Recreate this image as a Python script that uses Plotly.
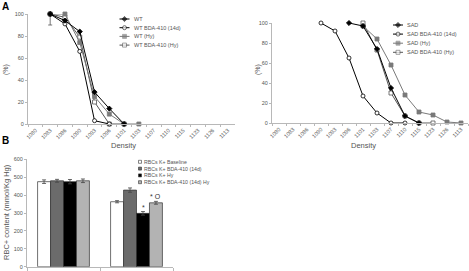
import plotly.graph_objects as go

W, H = 469, 271

# ---------------- data ----------------
density_labels = ["1080", "1083", "1086", "1090", "1093", "1096", "1101",
                  "1103", "1107", "1110", "1115", "1123", "1126", "1113"]

wt_x = ["1083", "1086", "1090", "1093", "1096", "1101"]
wt_y = [100, 94, 84, 29, 14, 0]
wt_bda14_x = ["1083", "1086", "1090", "1093", "1096"]
wt_bda14_y = [100, 91, 66, 3, 0]
wt_hy_x = ["1083", "1086", "1090", "1093", "1096", "1101", "1103"]
wt_hy_y = [100, 100, 74, 25, 9, 0, 0]
wt_bdahy_x = ["1083", "1086", "1090", "1093", "1096", "1101"]
wt_bdahy_y = [100, 97, 79, 20, 0, 0]
wt_bdahy_err = [10, 0, 0, 0, 0, 0]

sad_x = ["1096", "1101", "1103", "1107", "1110", "1115"]
sad_y = [100, 97, 74, 35, 7, 0]
sad_bda14_x = ["1090", "1093", "1096", "1101", "1103", "1107", "1110"]
sad_bda14_y = [100, 92, 65, 27, 10, 0, 0]
sad_hy_x = ["1101", "1103", "1107", "1110", "1115", "1123", "1126", "1113"]
sad_hy_y = [97, 84, 58, 28, 11, 8, 1, 0]
sad_bdahy_x = ["1101", "1103", "1107", "1110", "1115", "1123"]
sad_bdahy_y = [100, 73, 30, 7, 0, 0]

bar_groups = ["WT", "SAD"]
bar_names = ["RBCs K+ Baseline", "RBCs K+ BDA-410 (14d)",
             "RBCs K+ Hy", "RBCs K+ BDA-410 (14d) Hy"]
k_baseline = [475, 363]
k_bda14 = [480, 428]
k_hy = [475, 298]
k_bda14_hy = [480, 357]
k_baseline_err = [10, 6]
k_bda14_err = [8, 12]
k_hy_err = [12, 10]
k_bda14_hy_err = [10, 8]

# ---------------- helpers ----------------
def px(x):
    return x / W


def py(y):
    return 1 - y / H


FONT = "Liberation Sans, Arial, sans-serif"
TXT = "#555555"
AX = "#b8b8b8"

fig = go.Figure()

line_styles = {
    "black": dict(line=dict(color="#000000", width=1),
                  marker=dict(symbol="diamond", size=4, color="#000000",
                              line=dict(color="#000000", width=0.8))),
    "opencirc": dict(line=dict(color="#000000", width=1),
                     marker=dict(symbol="circle", size=4, color="#ffffff",
                                 line=dict(color="#000000", width=0.8))),
    "gray": dict(line=dict(color="#7a7a7a", width=1),
                 marker=dict(symbol="square", size=4, color="#7a7a7a",
                             line=dict(color="#7a7a7a", width=0.8))),
    "opensq": dict(line=dict(color="#555555", width=1),
                   marker=dict(symbol="square", size=4, color="#ffffff",
                               line=dict(color="#555555", width=0.8))),
}


def add_line(x, y, style, xa, ya, err=None):
    st = line_styles[style]
    kw = {}
    if err is not None:
        kw["error_y"] = dict(type="data", symmetric=False, array=[0] * len(err),
                             arrayminus=err, color="#555555", thickness=0.8, width=2)
    fig.add_trace(go.Scatter(x=x, y=y, mode="lines+markers", line=st["line"],
                             marker=st["marker"], xaxis=xa, yaxis=ya,
                             cliponaxis=False, showlegend=False, **kw))


# Panel A left (WT)
add_line(wt_bdahy_x, wt_bdahy_y, "opensq", "x", "y", err=wt_bdahy_err)
add_line(wt_hy_x, wt_hy_y, "gray", "x", "y")
add_line(wt_bda14_x, wt_bda14_y, "opencirc", "x", "y")
add_line(wt_x, wt_y, "black", "x", "y")

# Panel A right (SAD)
add_line(sad_bdahy_x, sad_bdahy_y, "opensq", "x2", "y2")
add_line(sad_hy_x, sad_hy_y, "gray", "x2", "y2")
add_line(sad_bda14_x, sad_bda14_y, "opencirc", "x2", "y2")
add_line(sad_x, sad_y, "black", "x2", "y2")

# Panel B bars
bar_series = [k_baseline, k_bda14, k_hy, k_bda14_hy]
bar_errs = [k_baseline_err, k_bda14_err, k_hy_err, k_bda14_hy_err]
bar_colors = ["#ffffff", "#6b6b6b", "#000000", "#b3b3b3"]
for name, vals, errs, col in zip(bar_names, bar_series, bar_errs, bar_colors):
    fig.add_trace(go.Bar(x=bar_groups, y=vals, name=name, xaxis="x3", yaxis="y3",
                         marker=dict(color=col, line=dict(color="#333333", width=0.7)),
                         error_y=dict(type="data", array=errs, color="#444444",
                                      thickness=0.8, width=2),
                         showlegend=False))

# ---------------- legends (drawn manually for compact spacing) ----------------
def legend_line(x0, yc, style, label):
    st = line_styles[style]
    fig.add_trace(go.Scatter(x=[x0, x0 + 5, x0 + 10], y=[yc, yc, yc],
                             mode="lines+markers", line=st["line"],
                             marker=dict(st["marker"], size=[0, 4, 0]),
                             xaxis="x4", yaxis="y4", cliponaxis=False,
                             showlegend=False, hoverinfo="skip"))
    fig.add_annotation(x=px(x0 + 13), y=py(yc), xref="paper", yref="paper",
                       text=label, showarrow=False, xanchor="left", yanchor="middle",
                       borderpad=0,
                       font=dict(family=FONT, size=5.5, color=TXT))


left_leg = ["WT", "WT BDA-410 (14d)", "WT (Hy)", "WT BDA-410 (Hy)"]
right_leg = ["SAD", "SAD BDA-410 (14d)", "SAD (Hy)", "SAD BDA-410 (Hy)"]
styles = ["black", "opencirc", "gray", "opensq"]
for i, (lab, st) in enumerate(zip(left_leg, styles)):
    legend_line(119.5, 19 + i * 8.7, st, lab)
for i, (lab, st) in enumerate(zip(right_leg, styles)):
    legend_line(393, 25 + i * 9.1, st, lab)

for i, (lab, col) in enumerate(zip(bar_names, bar_colors)):
    yc = 161.8 + i * 6.8
    fig.add_shape(type="rect", xref="paper", yref="paper",
                  x0=px(138.5), x1=px(141.5), y0=py(yc + 1.5), y1=py(yc - 1.5),
                  fillcolor=col, line=dict(color="#333333", width=0.6))
    fig.add_annotation(x=px(143), y=py(yc), xref="paper", yref="paper",
                       text=lab, showarrow=False, xanchor="left", yanchor="middle",
                       borderpad=0,
                       font=dict(family=FONT, size=5.2, color=TXT))

# significance marks
fig.add_annotation(x=1 + 0.089, y=k_hy[1] + k_hy_err[1], xref="x3", yref="y3",
                   text="*", showarrow=False, yanchor="bottom", borderpad=0,
                   font=dict(family=FONT, size=7, color="#333333"))
fig.add_annotation(x=1 + 0.266, y=k_bda14_hy[1] + k_bda14_hy_err[1], xref="x3", yref="y3",
                   text="* O", showarrow=False, yanchor="bottom", borderpad=0,
                   font=dict(family=FONT, size=7, color="#333333"))

# titles / labels
def label(x, y, text, size, angle=0, bold=False, color=TXT):
    fig.add_annotation(x=px(x), y=py(y), xref="paper", yref="paper", text=text,
                       showarrow=False, textangle=angle, xanchor="center",
                       yanchor="middle", borderpad=0,
                       font=dict(family=FONT, size=size, color=color,
                                 weight="bold" if bold else "normal"))


label(5, 7, "A", 10, bold=True, color="#000000")
label(5, 140, "B", 10, bold=True, color="#000000")
label(123, 145, "Density", 7.5)
label(363, 145, "Density", 7.5)
label(6, 70, "(%)", 7, angle=-90)
label(258, 70, "(%)", 7, angle=-90)
label(6, 212, "RBC+ content (mmol/Kg Hg)", 7.5, angle=-90)

# ---------------- axes ----------------
tickfont = dict(family=FONT, size=5.5, color=TXT)
cat_axis = dict(type="category", categoryorder="array", categoryarray=density_labels,
                range=[-0.5, len(density_labels) - 0.5], tickangle=-45,
                tickfont=tickfont, showgrid=False, zeroline=False,
                showline=True, linecolor=AX, linewidth=1, automargin=False,
                ticks="outside", ticklen=2, tickcolor=AX, tickson="boundaries")
val_axis = dict(range=[0, 100], dtick=20, tickfont=tickfont, showgrid=False,
                zeroline=False, showline=True, linecolor=AX, linewidth=1,
                automargin=False, ticks="outside", ticklen=2, tickcolor=AX)

fig.update_layout(
    width=W, height=H, margin=dict(l=0, r=0, t=0, b=0, pad=0, autoexpand=False),
    paper_bgcolor="#ffffff", plot_bgcolor="rgba(0,0,0,0)",
    font=dict(family=FONT, color=TXT),
    showlegend=False, barmode="group", bargap=0.29, bargroupgap=0,
    xaxis=dict(cat_axis, domain=[px(28), px(235)], anchor="y"),
    yaxis=dict(val_axis, domain=[py(124), py(14)], anchor="x"),
    xaxis2=dict(cat_axis, domain=[px(272), px(468)], anchor="y2"),
    yaxis2=dict(val_axis, domain=[py(123), py(23)], anchor="x2"),
    xaxis3=dict(type="category", domain=[px(27), px(173)], anchor="y3",
                showticklabels=False, showgrid=False, zeroline=False, automargin=False,
                showline=True, linecolor=AX, linewidth=1, ticks="outside",
                ticklen=3, tickcolor=AX, tickson="boundaries"),
    yaxis3=dict(range=[0, 600], dtick=100, domain=[py(266.7), py(159.3)], anchor="x3",
                tickfont=tickfont, showgrid=False, zeroline=False, showline=True,
                automargin=False,
                linecolor=AX, linewidth=1, ticks="outside", ticklen=2, tickcolor=AX),
    xaxis4=dict(domain=[0, 1], range=[0, W], visible=False, anchor="y4",
                fixedrange=True, automargin=False),
    yaxis4=dict(domain=[0, 1], range=[H, 0], visible=False, anchor="x4",
                fixedrange=True, automargin=False),
)

fig.write_html("out.html", config={"displayModeBar": False},
               post_script="document.body.style.margin='0';"
                           "document.body.style.overflow='hidden';")
